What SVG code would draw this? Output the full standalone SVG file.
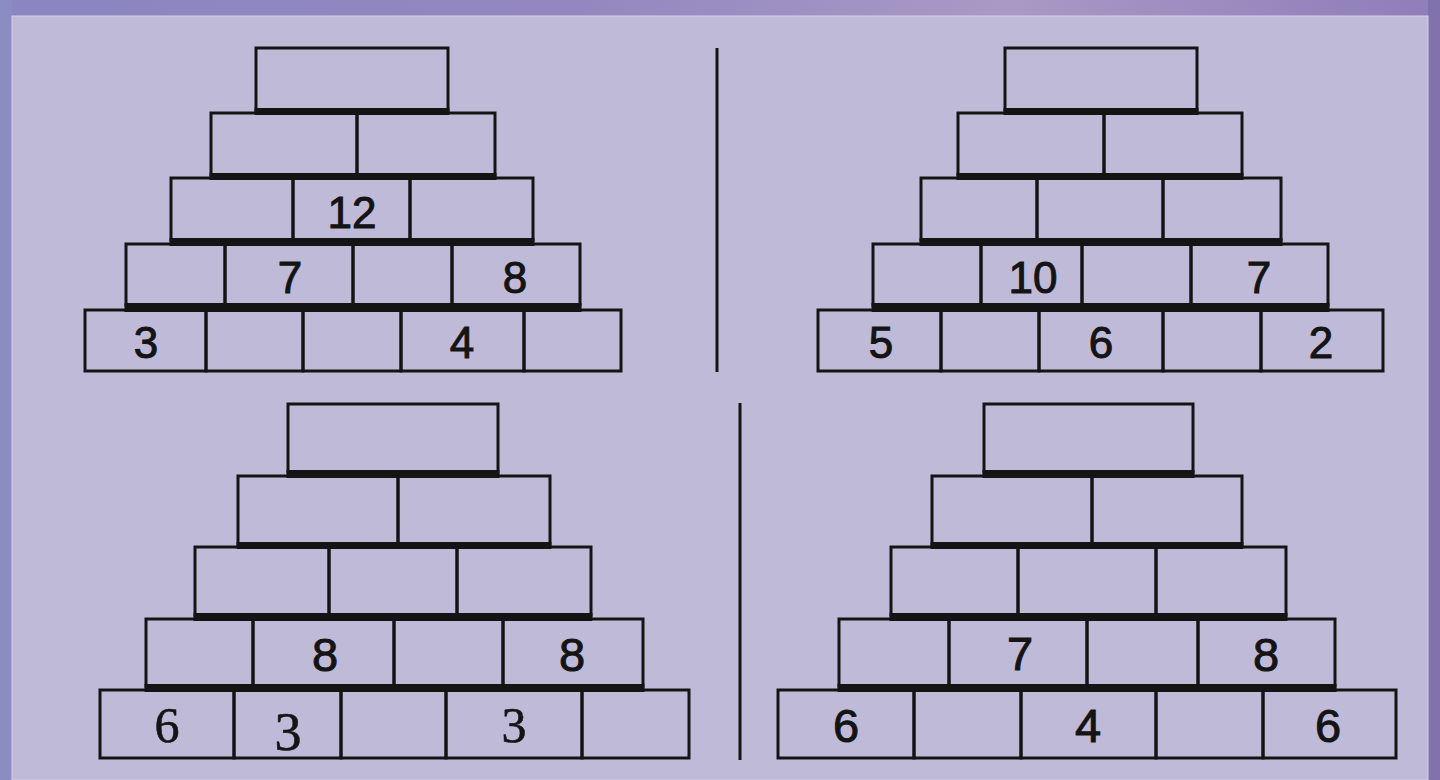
<svg xmlns="http://www.w3.org/2000/svg" width="1440" height="780" viewBox="0 0 1440 780">
<style>
.c{fill:none;stroke:#141414;stroke-width:3}
.b{fill:#141414}
.sep{stroke:#141414;stroke-width:3}
.n{font-family:"Liberation Sans",Arial,sans-serif;font-size:44px;fill:#141414;stroke:#141414;stroke-width:1;text-anchor:middle}
.m{font-family:"Liberation Sans",Arial,sans-serif;font-size:47px;fill:#141414;stroke:#141414;stroke-width:1;text-anchor:middle}
.s{font-family:"Liberation Serif","Times New Roman",serif;font-size:50px;fill:#141414;stroke:#141414;stroke-width:0.6;text-anchor:middle}
</style>
<defs>
<linearGradient id="top" x1="0" y1="0" x2="1" y2="0">
<stop offset="0" stop-color="#8a86c0"/>
<stop offset="0.4" stop-color="#9487bf"/>
<stop offset="0.7" stop-color="#a899c6"/>
<stop offset="1" stop-color="#8e7db8"/>
</linearGradient>
</defs>
<rect x="0" y="0" width="1440" height="780" fill="url(#top)"/>
<rect x="0" y="0" width="12" height="780" fill="#8c8cc4"/>
<rect x="1428" y="0" width="12" height="780" fill="#7f72ad"/>
<rect x="12" y="16" width="1416" height="764" fill="#c0bad9" stroke="#d4cfe6" stroke-width="1"/>

<g id="pyramid-top-left">
<rect class="b" x="254.5" y="108" width="195" height="7"/>
<rect class="b" x="209.5" y="173" width="287" height="7"/>
<rect class="b" x="169.5" y="238" width="365" height="8"/>
<rect class="b" x="124.5" y="303" width="457" height="9"/>
<g id="tl-r1c1"><rect class="c" x="256" y="48" width="192" height="62"/></g>
<g id="tl-r2c1"><rect class="c" x="211" y="113" width="146" height="62"/></g>
<g id="tl-r2c2"><rect class="c" x="357" y="113" width="138" height="62"/></g>
<g id="tl-r3c1"><rect class="c" x="171" y="178" width="122" height="62"/></g>
<g id="tl-r3c2"><rect class="c" x="293" y="178" width="117" height="62"/><text class="n" x="352" y="228">12</text></g>
<g id="tl-r3c3"><rect class="c" x="410" y="178" width="123" height="62"/></g>
<g id="tl-r4c1"><rect class="c" x="126" y="244" width="99" height="61"/></g>
<g id="tl-r4c2"><rect class="c" x="225" y="244" width="128" height="61"/><text class="n" x="290" y="293">7</text></g>
<g id="tl-r4c3"><rect class="c" x="353" y="244" width="99" height="61"/></g>
<g id="tl-r4c4"><rect class="c" x="452" y="244" width="128" height="61"/><text class="n" x="515" y="293">8</text></g>
<g id="tl-r5c1"><rect class="c" x="85" y="310" width="121" height="61"/><text class="n" x="146" y="358">3</text></g>
<g id="tl-r5c2"><rect class="c" x="206" y="310" width="97" height="61"/></g>
<g id="tl-r5c3"><rect class="c" x="303" y="310" width="98" height="61"/></g>
<g id="tl-r5c4"><rect class="c" x="401" y="310" width="123" height="61"/><text class="n" x="462" y="358">4</text></g>
<g id="tl-r5c5"><rect class="c" x="524" y="310" width="97" height="61"/></g>
</g>

<g id="pyramid-top-right">
<rect class="b" x="1003.5" y="108" width="195" height="7"/>
<rect class="b" x="956.5" y="173" width="287" height="7"/>
<rect class="b" x="919.5" y="238" width="363" height="8"/>
<rect class="b" x="871.5" y="303" width="458" height="9"/>
<g id="tr-r1c1"><rect class="c" x="1005" y="48" width="192" height="62"/></g>
<g id="tr-r2c1"><rect class="c" x="958" y="113" width="146" height="62"/></g>
<g id="tr-r2c2"><rect class="c" x="1104" y="113" width="138" height="62"/></g>
<g id="tr-r3c1"><rect class="c" x="921" y="178" width="116" height="62"/></g>
<g id="tr-r3c2"><rect class="c" x="1037" y="178" width="126" height="62"/></g>
<g id="tr-r3c3"><rect class="c" x="1163" y="178" width="118" height="62"/></g>
<g id="tr-r4c1"><rect class="c" x="873" y="244" width="108" height="61"/></g>
<g id="tr-r4c2"><rect class="c" x="981" y="244" width="101" height="61"/><text class="n" x="1033" y="293">10</text></g>
<g id="tr-r4c3"><rect class="c" x="1082" y="244" width="109" height="61"/></g>
<g id="tr-r4c4"><rect class="c" x="1191" y="244" width="137" height="61"/><text class="n" x="1259" y="293">7</text></g>
<g id="tr-r5c1"><rect class="c" x="818" y="310" width="123" height="61"/><text class="n" x="881" y="358">5</text></g>
<g id="tr-r5c2"><rect class="c" x="941" y="310" width="98" height="61"/></g>
<g id="tr-r5c3"><rect class="c" x="1039" y="310" width="124" height="61"/><text class="n" x="1101" y="358">6</text></g>
<g id="tr-r5c4"><rect class="c" x="1163" y="310" width="98" height="61"/></g>
<g id="tr-r5c5"><rect class="c" x="1261" y="310" width="122" height="61"/><text class="n" x="1321" y="358">2</text></g>
</g>

<g id="pyramid-bottom-left">
<rect class="b" x="286.5" y="470" width="213" height="8"/>
<rect class="b" x="236.5" y="542" width="315" height="7"/>
<rect class="b" x="193.5" y="613" width="399" height="8"/>
<rect class="b" x="144.5" y="684" width="500" height="8"/>
<g id="bl-r1c1"><rect class="c" x="288" y="404" width="210" height="68"/></g>
<g id="bl-r2c1"><rect class="c" x="238" y="476" width="160" height="68"/></g>
<g id="bl-r2c2"><rect class="c" x="398" y="476" width="152" height="68"/></g>
<g id="bl-r3c1"><rect class="c" x="195" y="547" width="134" height="68"/></g>
<g id="bl-r3c2"><rect class="c" x="329" y="547" width="128" height="68"/></g>
<g id="bl-r3c3"><rect class="c" x="457" y="547" width="134" height="68"/></g>
<g id="bl-r4c1"><rect class="c" x="146" y="619" width="107" height="67"/></g>
<g id="bl-r4c2"><rect class="c" x="253" y="619" width="141" height="67"/><text class="m" x="325" y="671">8</text></g>
<g id="bl-r4c3"><rect class="c" x="394" y="619" width="109" height="67"/></g>
<g id="bl-r4c4"><rect class="c" x="503" y="619" width="140" height="67"/><text class="m" x="572" y="671">8</text></g>
<g id="bl-r5c1"><rect class="c" x="100" y="690" width="134" height="68"/><text class="s" x="167" y="742">6</text></g>
<g id="bl-r5c2"><rect class="c" x="234" y="690" width="107" height="68"/><text class="s" x="288" y="750" style="font-size:54px">3</text></g>
<g id="bl-r5c3"><rect class="c" x="341" y="690" width="105" height="68"/></g>
<g id="bl-r5c4"><rect class="c" x="446" y="690" width="136" height="68"/><text class="s" x="514" y="742">3</text></g>
<g id="bl-r5c5"><rect class="c" x="582" y="690" width="107" height="68"/></g>
</g>

<g id="pyramid-bottom-right">
<rect class="b" x="982.5" y="470" width="212" height="8"/>
<rect class="b" x="930.5" y="542" width="313" height="7"/>
<rect class="b" x="889.5" y="613" width="398" height="8"/>
<rect class="b" x="837.5" y="684" width="499" height="8"/>
<g id="br-r1c1"><rect class="c" x="984" y="404" width="209" height="68"/></g>
<g id="br-r2c1"><rect class="c" x="932" y="476" width="160" height="68"/></g>
<g id="br-r2c2"><rect class="c" x="1092" y="476" width="150" height="68"/></g>
<g id="br-r3c1"><rect class="c" x="891" y="547" width="127" height="68"/></g>
<g id="br-r3c2"><rect class="c" x="1018" y="547" width="138" height="68"/></g>
<g id="br-r3c3"><rect class="c" x="1156" y="547" width="130" height="68"/></g>
<g id="br-r4c1"><rect class="c" x="839" y="619" width="110" height="67"/></g>
<g id="br-r4c2"><rect class="c" x="949" y="619" width="138" height="67"/><text class="m" x="1020" y="670">7</text></g>
<g id="br-r4c3"><rect class="c" x="1087" y="619" width="111" height="67"/></g>
<g id="br-r4c4"><rect class="c" x="1198" y="619" width="137" height="67"/><text class="m" x="1266" y="671">8</text></g>
<g id="br-r5c1"><rect class="c" x="778" y="690" width="136" height="68"/><text class="m" x="846" y="742">6</text></g>
<g id="br-r5c2"><rect class="c" x="914" y="690" width="107" height="68"/></g>
<g id="br-r5c3"><rect class="c" x="1021" y="690" width="135" height="68"/><text class="m" x="1088" y="742">4</text></g>
<g id="br-r5c4"><rect class="c" x="1156" y="690" width="107" height="68"/></g>
<g id="br-r5c5"><rect class="c" x="1263" y="690" width="133" height="68"/><text class="m" x="1328" y="742">6</text></g>
</g>

<g id="connectors">
<line class="sep" x1="717" y1="48" x2="717" y2="372"/>
<line class="sep" x1="740" y1="403" x2="740" y2="760"/>
</g>
</svg>
